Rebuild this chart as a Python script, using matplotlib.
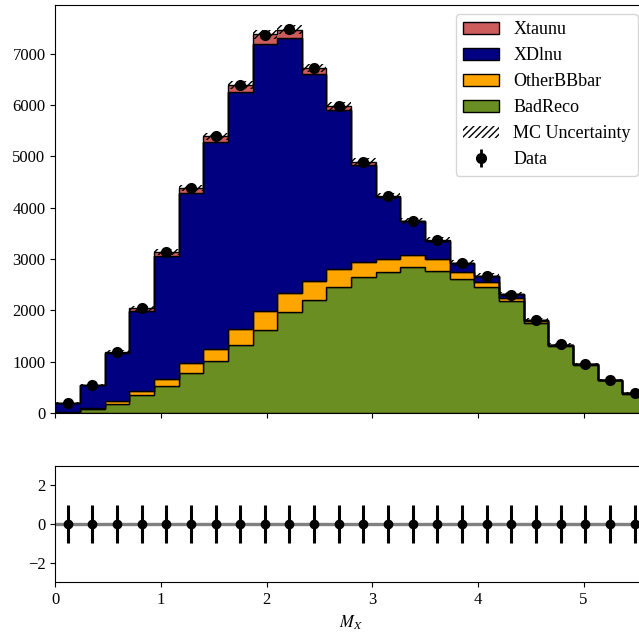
import numpy as np
import matplotlib
matplotlib.use('Agg')
import matplotlib.pyplot as plt
import matplotlib.patches as mpatches

plt.rcParams['font.family'] = ['Liberation Serif', 'DejaVu Serif']
plt.rcParams['mathtext.fontset'] = 'stix'
plt.rcParams['font.size'] = 12

# 24 bins in M_X from 0 to 5.6
bin_lo = 0.0
bin_hi = 5.6
n_bins = 24

# stacked MC components (bottom -> top)
badreco = [10, 78, 170, 358, 521, 781, 1009, 1322, 1615, 1973, 2201, 2464,
           2658, 2740, 2845, 2770, 2607, 2463, 2184, 1748, 1306, 940, 635, 378]
otherbb = [5, 25, 58, 65, 143, 189, 228, 306, 378, 358, 371, 338,
           286, 270, 235, 227, 138, 97, 56, 42, 14, 5, 5, 3]
xdlnu = [175, 437, 942, 1570, 2396, 3315, 4038, 4632, 5187, 4979, 4028, 3094,
         1879, 1208, 651, 363, 175, 111, 70, 18, 8, 3, 2, 1]
xtaunu = [5, 8, 15, 45, 72, 98, 117, 130, 195, 155, 125, 91,
          77, 12, 14, 10, 5, 4, 2, 5, 4, 1, 1, 1]
mc_unc = [14, 23, 34, 45, 56, 66, 73, 80, 86, 86, 82, 77,
          70, 65, 61, 58, 54, 52, 48, 43, 36, 31, 25, 20]

data = [185, 545, 1180, 2040, 3130, 4380, 5395, 6400, 7365, 7480, 6715, 5975,
        4882, 4231, 3750, 3365, 2915, 2665, 2305, 1820, 1335, 952, 643, 395]
data_err = [14, 23, 34, 45, 56, 66, 73, 80, 86, 86, 82, 77,
            70, 65, 61, 58, 54, 52, 48, 43, 36, 31, 25, 20]

pull = [0, 0, 0, 0, 0, 0, 0, 0, 0, 0, 0, 0,
        0, 0, 0, 0, 0, 0, 0, 0, 0, 0, 0, 0]
pull_err = [1, 1, 1, 1, 1, 1, 1, 1, 1, 1, 1, 1,
            1, 1, 1, 1, 1, 1, 1, 1, 1, 1, 1, 1]

names = ['BadReco', 'OtherBBbar', 'XDlnu', 'Xtaunu']
colors = ['olivedrab', 'orange', 'navy', 'indianred']
comps = [badreco, otherbb, xdlnu, xtaunu]

edges = np.linspace(bin_lo, bin_hi, n_bins + 1)
centers = 0.5 * (edges[1:] + edges[:-1])

fig = plt.figure(figsize=(6.39, 6.38), dpi=100)
ax = fig.add_axes([0.0865, 0.3527, 0.926, 0.6395])
rax = fig.add_axes([0.0865, 0.0878, 0.926, 0.1818])

# stacked histogram
bottom = np.zeros(n_bins)
handles = {}
for name, col, vals in zip(names, colors, comps):
    vals = np.array(vals, dtype=float)
    ax.stairs(bottom + vals, edges, baseline=bottom, fill=True,
              facecolor=col, edgecolor='black', linewidth=1.0)
    handles[name] = mpatches.Patch(facecolor=col, edgecolor='black', label=name)
    bottom = bottom + vals

total = bottom
unc = np.array(mc_unc, dtype=float)
ax.stairs(total + unc, edges, baseline=total - unc, fill=True,
          facecolor='none', edgecolor='black', hatch='/////', linewidth=0)
unc_handle = mpatches.Patch(facecolor='none', edgecolor='black', hatch='/////',
                            linewidth=0, label='MC Uncertainty')

dh = ax.errorbar(centers, data, yerr=data_err, fmt='o', color='black',
                 markersize=7, elinewidth=2, label='Data')

ax.set_xlim(bin_lo, bin_hi)
ax.set_ylim(0, 7950)
ax.set_xticks([0, 1, 2, 3, 4, 5])
ax.set_xticklabels([])
ax.set_yticks([0, 1000, 2000, 3000, 4000, 5000, 6000, 7000])

fig.legend(handles=[handles['Xtaunu'], handles['XDlnu'], handles['OtherBBbar'],
                    handles['BadReco'], unc_handle, dh],
           loc='upper right', bbox_to_anchor=(638 / 639, 1 - 14 / 638),
           borderaxespad=0, fontsize=13)

# pull panel
rax.axhline(0, color='gray', linewidth=2.4, zorder=1)
rax.errorbar(centers, pull, yerr=pull_err, fmt='o', color='black',
             markersize=6, elinewidth=2.2, zorder=2)
rax.set_xlim(bin_lo, bin_hi)
rax.set_ylim(-3, 3)
rax.set_yticks([-2, 0, 2])
rax.set_xticks([0, 1, 2, 3, 4, 5])
rax.set_xlabel('$M_X$')

fig.savefig('out.png', dpi=100)
